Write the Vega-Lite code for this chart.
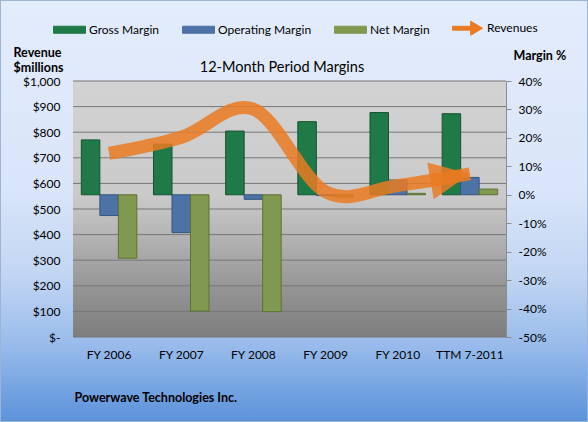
{
  "$schema": "https://vega.github.io/schema/vega-lite/v6.json",
  "width": 588,
  "height": 422,
  "autosize": {"type": "none"},
  "padding": 0,
  "background": "#dfe9fa",
  "config": {
    "font": "Lato",
    "view": {
      "fill": {"gradient": "linear", "x1": 0, "y1": 0, "x2": 0, "y2": 1, "stops": [
        {"offset": 0, "color": "#e3ecfc"},
        {"offset": 0.45, "color": "#d9e5f9"},
        {"offset": 0.65, "color": "#c2d6f3"},
        {"offset": 0.82, "color": "#98bbeb"},
        {"offset": 1, "color": "#5a92da"}]},
      "stroke": "#9fb4d3",
      "strokeWidth": 2
    },
    "axis": {"labelFont": "Lato", "titleFont": "Lato", "labelColor": "#000000", "titleColor": "#000000", "labelFontSize": 12}
  },
  "title": {"text": "12-Month Period Margins", "fontSize": 14.5, "fontWeight": "normal", "font": "Lato", "color": "#000000", "anchor": "middle", "frame": "group", "baseline": "middle", "offset": 0, "dx": -12, "dy": 82},
  "datasets": {
    "margins": [
      {"period": "FY 2006", "series": "Gross Margin", "value": 0.193},
      {"period": "FY 2006", "series": "Operating Margin", "value": -0.073},
      {"period": "FY 2006", "series": "Net Margin", "value": -0.223},
      {"period": "FY 2007", "series": "Gross Margin", "value": 0.178},
      {"period": "FY 2007", "series": "Operating Margin", "value": -0.133},
      {"period": "FY 2007", "series": "Net Margin", "value": -0.409},
      {"period": "FY 2008", "series": "Gross Margin", "value": 0.224},
      {"period": "FY 2008", "series": "Operating Margin", "value": -0.016},
      {"period": "FY 2008", "series": "Net Margin", "value": -0.411},
      {"period": "FY 2009", "series": "Gross Margin", "value": 0.257},
      {"period": "FY 2009", "series": "Operating Margin", "value": -0.003},
      {"period": "FY 2009", "series": "Net Margin", "value": -0.008},
      {"period": "FY 2010", "series": "Gross Margin", "value": 0.289},
      {"period": "FY 2010", "series": "Operating Margin", "value": 0.052},
      {"period": "FY 2010", "series": "Net Margin", "value": 0.005},
      {"period": "TTM 7-2011", "series": "Gross Margin", "value": 0.285},
      {"period": "TTM 7-2011", "series": "Operating Margin", "value": 0.061},
      {"period": "TTM 7-2011", "series": "Net Margin", "value": 0.02}
    ],
    "revenue": [
      {"period": "FY 2006", "revenue": 717},
      {"period": "FY 2007", "revenue": 780},
      {"period": "FY 2008", "revenue": 890},
      {"period": "FY 2009", "revenue": 567},
      {"period": "FY 2010", "revenue": 592},
      {"period": "TTM 7-2011", "revenue": 637}
    ],
    "grid": [
      {"g": 0}, {"g": 100}, {"g": 200}, {"g": 300}, {"g": 400}, {"g": 500},
      {"g": 600}, {"g": 700}, {"g": 800}, {"g": 900}, {"g": 1000}
    ]
  },
  "encoding": {
    "x": {
      "field": "period", "type": "nominal",
      "scale": {"domain": ["FY 2006", "FY 2007", "FY 2008", "FY 2009", "FY 2010", "TTM 7-2011"], "range": [73, 506], "paddingInner": 0, "paddingOuter": 0},
      "axis": {"orient": "bottom", "offset": -85, "domain": false, "ticks": false, "tickSize": 0, "labelPadding": 12, "labelFontSize": 12, "labelAngle": 0, "grid": false,
        "title": "Powerwave Technologies Inc.", "titleFontSize": 12.5, "titleFontWeight": "bold", "titleAlign": "left", "titleAnchor": "start", "titleX": 74, "titleY": 60, "titleBaseline": "middle"}
    }
  },
  "layer": [
    {
      "layer": [
        {
          "data": {"values": [{"plot": "area"}]},
          "mark": {"type": "rect", "fill": {"gradient": "linear", "x1": 0, "y1": 0, "x2": 0, "y2": 1, "stops": [
            {"offset": 0, "color": "#d3d3d3"},
            {"offset": 0.45, "color": "#cacaca"},
            {"offset": 0.6, "color": "#b5b5b5"},
            {"offset": 0.8, "color": "#969696"},
            {"offset": 1, "color": "#7d7d7d"}]}},
          "encoding": {
            "x": {"datum": "FY 2006", "type": "nominal", "bandPosition": 0,
              "axis": {"orient": "bottom", "offset": -85, "domain": false, "ticks": false, "tickSize": 0, "labelPadding": 12, "labelFontSize": 12, "labelAngle": 0, "grid": false,
                "title": "Powerwave Technologies Inc.", "titleFontSize": 12.5, "titleFontWeight": "bold", "titleAlign": "left", "titleAnchor": "start", "titleX": 74, "titleY": 60, "titleBaseline": "middle"}},
            "x2": {"datum": "TTM 7-2011", "bandPosition": 1},
            "y": {"datum": 1000, "type": "quantitative", "scale": {"domain": [0, 1000], "range": [337, 81], "nice": false}, "axis": null},
            "y2": {"datum": 0}
          }
        },
        {
          "data": {"name": "grid"},
          "mark": {"type": "rule", "color": "#777777", "strokeWidth": 1},
          "encoding": {
            "x": {"datum": "FY 2006", "type": "nominal", "bandPosition": 0,
              "axis": {"orient": "bottom", "offset": -85, "domain": false, "ticks": false, "tickSize": 0, "labelPadding": 12, "labelFontSize": 12, "labelAngle": 0, "grid": false,
                "title": "Powerwave Technologies Inc.", "titleFontSize": 12.5, "titleFontWeight": "bold", "titleAlign": "left", "titleAnchor": "start", "titleX": 74, "titleY": 60, "titleBaseline": "middle"}},
            "x2": {"datum": "TTM 7-2011", "bandPosition": 1},
            "y": {"field": "g", "type": "quantitative", "scale": {"domain": [0, 1000], "range": [337, 81], "nice": false}, "axis": null}
          }
        }
      ]
    },
    {
      "data": {"name": "margins"},
      "mark": {"type": "bar", "strokeWidth": 1},
      "encoding": {
        "xOffset": {"field": "series", "type": "nominal", "scale": {"domain": ["Gross Margin", "Operating Margin", "Net Margin"], "paddingOuter": 0.45, "paddingInner": 0}},
        "y": {"field": "value", "type": "quantitative",
          "scale": {"domain": [-0.5, 0.4], "range": [337, 81], "nice": false},
          "axis": {"orient": "right", "offset": -82, "values": [-0.5, -0.4, -0.3, -0.2, -0.1, 0, 0.1, 0.2, 0.3, 0.4],
            "domain": true, "domainColor": "#8c8c8c", "ticks": true, "tickSize": 5, "tickColor": "#8c8c8c", "labelPadding": 7, "grid": false,
            "labelExpr": "(datum.value < -0.001 ? '-' : '') + format(abs(datum.value), '.0%')",
            "title": "Margin %", "titleAngle": 0, "titleAlign": "left", "titleBaseline": "middle", "titleX": 7, "titleY": 55, "titleFontSize": 12.5, "titleFontWeight": "bold"}},
        "color": {"field": "series", "type": "nominal",
          "scale": {"domain": ["Gross Margin", "Operating Margin", "Net Margin", "Revenues"], "range": ["#1f7a48", "#4d72a5", "#80994f", "#ea7a22"]},
          "legend": {"orient": "none", "legendX": 53, "legendY": 11.5, "direction": "horizontal", "title": null,
            "symbolType": "M-1,-0.22H1V0.22H-1Z", "symbolSize": 1024, "labelFontSize": 12, "labelFont": "Lato", "labelColor": "#000000",
            "labelOffset": 3, "columnPadding": 20, "padding": 0, "symbolStrokeWidth": 1,
            "encode": {"symbols": {"update": {
              "shape": {"signal": "datum.value === 'Revenues' ? 'M-0.94,-0.12H0.2V-0.44L0.94,0L0.2,0.44V0.12H-0.94Z' : 'M-1,-0.22H1V0.22H-1Z'"},
              "fill": {"signal": "datum.value === 'Gross Margin' ? '#2a8153' : datum.value === 'Operating Margin' ? '#5679ad' : datum.value === 'Net Margin' ? '#8aa35a' : '#ea7a22'"},
              "stroke": {"signal": "datum.value === 'Gross Margin' ? '#145230' : datum.value === 'Operating Margin' ? '#36557f' : datum.value === 'Net Margin' ? '#5d7235' : '#ea7a22'"},
              "opacity": {"value": 1},
              "fillOpacity": {"value": 1}
            }}}}},
        "stroke": {"field": "series", "type": "nominal",
          "scale": {"domain": ["Gross Margin", "Operating Margin", "Net Margin"], "range": ["#145230", "#36557f", "#5d7235"]},
          "legend": null}
      }
    },
    {
      "data": {"name": "revenue"},
      "encoding": {
        "y": {"field": "revenue", "type": "quantitative",
          "scale": {"domain": [0, 1000], "range": [337, 81], "nice": false},
          "axis": {"orient": "left", "offset": -73, "values": [0, 100, 200, 300, 400, 500, 600, 700, 800, 900, 1000],
            "domain": false, "ticks": false, "tickSize": 0, "labelPadding": 13, "grid": false,
            "labelExpr": "datum.value == 0 ? '$-\u00a0' : '$' + format(datum.value, ',')",
            "title": ["Revenue", "$millions"], "titleAngle": 0, "titleAlign": "left", "titleBaseline": "middle", "titleX": -60, "titleY": 52,
            "titleLineHeight": 15, "titleFontSize": 12.5, "titleFontWeight": "bold"}},
        "color": {"datum": "Revenues", "type": "nominal"}
      },
      "layer": [
        {
          "mark": {"type": "line", "interpolate": "cardinal", "tension": 0, "strokeWidth": 13, "opacity": 0.85, "strokeCap": "butt"}
        },
        {
          "transform": [{"filter": "datum.period === 'TTM 7-2011'"}],
          "mark": {"type": "point", "shape": "M-2,-0.93L0,0L-2,0.93Z", "size": 1600, "filled": true, "opacity": 0.85, "angle": 350, "strokeWidth": 0}
        }
      ]
    }
  ],
  "resolve": {"scale": {"y": "independent"}, "axis": {"y": "independent"}}
}
